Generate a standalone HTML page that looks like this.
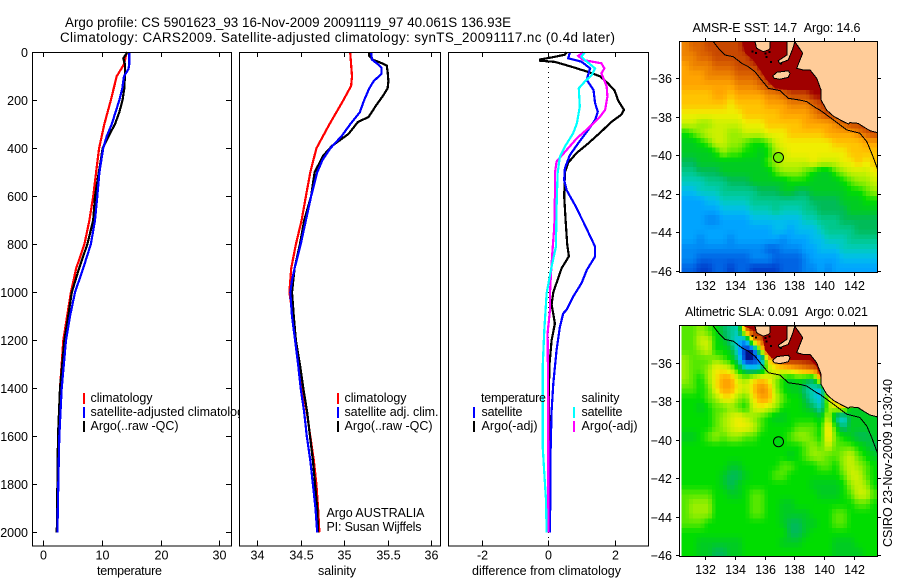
<!DOCTYPE html>
<html>
<head>
<meta charset="utf-8">
<style>
html,body{margin:0;padding:0;background:#fff;width:900px;height:580px;overflow:hidden}
svg{display:block}
text{font-family:"Liberation Sans",sans-serif;font-size:12.5px;fill:#000}
</style>
</head>
<body>
<svg id="figure" xmlns="http://www.w3.org/2000/svg" width="900" height="580" viewBox="0 0 900 580">
<rect x="0" y="0" width="900" height="580" fill="#fff"/>
<text x="65" y="27" textLength="446" style="font-size:13.4px">Argo profile: CS 5901623_93 16-Nov-2009 20091119_97 40.061S 136.93E</text>
<text x="60" y="42" textLength="555" style="font-size:13.4px">Climatology: CARS2009. Satellite-adjusted climatology: synTS_20091117.nc (0.4d later)</text>

<g id="temp-panel"></g>
<g>
<text x="90.5" y="402" textLength="62">climatology</text>
<text x="90.5" y="416">satellite-adjusted climatology</text>
<text x="90.5" y="430" textLength="88">Argo(..raw -QC)</text>
<rect x="83" y="393" width="2" height="11" fill="#f00"/>
<rect x="83" y="407" width="2" height="11" fill="#00f"/>
<rect x="83" y="421" width="2" height="11" fill="#000"/>
<text x="97" y="575" textLength="65">temperature</text>
</g>

<g id="sal-panel"></g>
<g>
<text x="344.5" y="402" textLength="62">climatology</text>
<text x="344.5" y="416" textLength="94">satellite adj. clim.</text>
<text x="344.5" y="430" textLength="88">Argo(..raw -QC)</text>
<rect x="337" y="393" width="2" height="11" fill="#f00"/>
<rect x="337" y="407" width="2" height="11" fill="#00f"/>
<rect x="337" y="421" width="2" height="11" fill="#000"/>
<text x="326.5" y="517" textLength="98">Argo AUSTRALIA</text>
<text x="326.5" y="531" textLength="95">PI: Susan Wijffels</text>
<text x="318" y="575" textLength="38">salinity</text>
</g>

<g id="diff-panel"></g>
<g>
<text x="481" y="402" textLength="65">temperature</text>
<text x="481.5" y="416" textLength="41">satellite</text>
<text x="481.5" y="430" textLength="56">Argo(-adj)</text>
<rect x="473" y="407" width="2" height="11" fill="#00f"/>
<rect x="473" y="421" width="2" height="11" fill="#000"/>
<text x="581.5" y="402" textLength="38">salinity</text>
<text x="581.5" y="416" textLength="41">satellite</text>
<text x="581.5" y="430" textLength="56">Argo(-adj)</text>
<rect x="573" y="407" width="2" height="11" fill="#0ff"/>
<rect x="573" y="421" width="2" height="11" fill="#f0f"/>
<text x="472" y="575" textLength="149">difference from climatology</text>
</g>

<text x="692.5" y="32" textLength="168">AMSR-E SST: 14.7&#160;&#160;Argo: 14.6</text>
<g id="sst-map"></g>
<text x="685" y="316" textLength="183">Altimetric SLA: 0.091&#160;&#160;Argo: 0.021</text>
<g id="sla-map"></g>
<text transform="translate(892,547) rotate(-90)" x="0" y="0" textLength="168">CSIRO 23-Nov-2009 10:30:40</text>
</svg>

<script>
// ---- profile data: depth (m) and value arrays for each series ----
const tempTicks = [0, 10, 20, 30];
const salTicks = [34, 34.5, 35, 35.5, 36];
const diffTicks = [-2, 0, 2];
const depthTicks = [0, 200, 400, 600, 800, 1000, 1200, 1400, 1600, 1800, 2000];

const tempClimDepth = [0, 50, 100, 200, 300, 400, 500, 600, 700, 800, 900, 1000, 1200, 1400, 1600, 1800, 2000];
const tempClim = [14.2, 13.75, 12.5, 11.5, 10.4, 9.5, 9.0, 8.5, 7.85, 7.0, 5.6, 4.7, 3.4, 2.85, 2.55, 2.4, 2.3];
const tempSatDepth = [0, 50, 70, 100, 150, 200, 250, 300, 350, 400, 500, 600, 700, 800, 900, 1000, 1100, 1200, 1400, 1600, 1800, 2000];
const tempSat = [14.65, 14.65, 14.5, 13.75, 13.45, 12.95, 12.3, 11.65, 10.8, 10.2, 9.55, 9.2, 8.8, 8.1, 6.8, 5.4, 4.55, 3.87, 3.13, 2.73, 2.55, 2.4];
const tempArgoDepth = [0, 25, 50, 100, 150, 200, 250, 300, 350, 400, 450, 500, 600, 700, 800, 900, 1000, 1100, 1200, 1400, 1600, 1800, 2000];
const tempArgo = [14.3, 13.65, 13.9, 13.9, 13.8, 13.5, 12.95, 12.2, 11.1, 10.1, 9.8, 9.45, 8.8, 8.5, 7.5, 6.1, 4.85, 4.25, 3.6, 2.85, 2.5, 2.4, 2.3];

const salClimDepth = [0, 50, 100, 140, 200, 300, 400, 500, 600, 700, 800, 900, 1000, 1100, 1200, 1300, 1400, 1500, 1600, 1700, 1800, 1900, 2000];
const salClim = [35.07, 35.08, 35.09, 35.08, 34.99, 34.83, 34.68, 34.61, 34.56, 34.51, 34.445, 34.39, 34.37, 34.41, 34.445, 34.48, 34.52, 34.57, 34.61, 34.65, 34.68, 34.70, 34.715];
const salSatDepth = [0, 30, 50, 65, 90, 120, 150, 200, 250, 300, 350, 400, 450, 500, 600, 700, 800, 900, 950, 1000, 1100, 1200, 1300, 1400, 1500, 1600, 1700, 1800, 1900, 2000];
const salSat = [35.31, 35.32, 35.39, 35.43, 35.43, 35.34, 35.29, 35.23, 35.18, 35.07, 34.97, 34.84, 34.75, 34.69, 34.62, 34.56, 34.5, 34.43, 34.40, 34.38, 34.40, 34.435, 34.47, 34.5, 34.54, 34.57, 34.61, 34.64, 34.67, 34.69];
const salArgoDepth = [0, 15, 30, 45, 55, 80, 120, 150, 180, 220, 270, 290, 340, 390, 430, 500, 600, 700, 800, 900, 1000, 1100, 1200, 1300, 1400, 1500, 1600, 1700, 1800, 1900, 2000];
const salArgo = [35.29, 35.29, 35.325, 35.43, 35.49, 35.5, 35.51, 35.5, 35.45, 35.37, 35.28, 35.16, 35.05, 34.86, 34.76, 34.66, 34.62, 34.54, 34.49, 34.43, 34.40, 34.42, 34.445, 34.49, 34.53, 34.575, 34.607, 34.64, 34.665, 34.69, 34.70];

const diffTempArgoDepth = [0, 10, 20, 30, 35, 40, 50, 60, 80, 100, 130, 160, 200, 240, 260, 290, 330, 380, 420, 460, 500, 600, 700, 800, 850, 900, 1000, 1050, 1130, 1200, 1310, 1420, 2000];
const diffTempArgo = [0.55, 0.5, 0.15, -0.25, -0.25, 0.2, 0.45, 0.7, 1.16, 1.56, 1.8, 2.0, 2.1, 2.28, 2.2, 1.9, 1.6, 1.2, 0.85, 0.6, 0.5, 0.48, 0.52, 0.57, 0.62, 0.4, 0.15, 0.1, 0.2, 0.1, 0.03, 0.02, 0.05];
const diffTempSatDepth = [0, 25, 39, 67, 94, 115, 157, 212, 247, 282, 324, 379, 428, 483, 532, 574, 636, 719, 810, 851, 907, 962, 1018, 1073, 1088, 1144, 1240, 1380, 1495, 1660, 2000];
const diffTempSat = [0.65, 0.6, 1.0, 1.26, 1.2, 1.16, 1.36, 1.41, 1.49, 1.41, 1.2, 0.9, 0.65, 0.5, 0.48, 0.55, 0.8, 1.1, 1.41, 1.41, 1.16, 1.0, 0.75, 0.55, 0.45, 0.35, 0.25, 0.15, 0.1, 0.07, 0.05];
const diffSalArgoDepth = [0, 15, 32, 46, 67, 87, 143, 185, 240, 268, 317, 358, 407, 455, 504, 601, 726, 837, 921, 1004, 1073, 1170, 1500, 2000];
const diffSalArgo = [1.05, 0.9, 1.05, 1.6, 1.69, 1.6, 1.76, 1.78, 1.71, 1.56, 1.2, 0.86, 0.55, 0.25, 0.2, 0.2, 0.18, 0.12, 0.08, 0.05, 0.05, -0.02, 0, 0];
const diffSalSatDepth = [0, 18, 32, 67, 94, 122, 150, 226, 296, 337, 393, 435, 504, 643, 810, 893, 1004, 1073, 1157, 1310, 1643, 1754, 1865, 2000];
const diffSalSat = [1.1, 1.0, 1.1, 1.41, 1.31, 1.1, 0.92, 0.95, 0.86, 0.75, 0.5, 0.35, 0.28, 0.25, 0.23, 0.1, -0.05, -0.08, -0.12, -0.17, -0.17, -0.12, -0.07, -0.05];

// ---- map data: gridded colour levels, 24 rows (north to south) by 26 columns ----
const mapLonTicks = [132, 134, 136, 138, 140, 142];
const mapLatTicks = [-36, -38, -40, -42, -44, -46];
const sstGrid = [
[16,17,17,18,18,18,18,18,19,19,19,19,19,19,19,19,19,19,19,19,19,19,19,19,19,19],
[16,16,17,17,18,18,18,18,18,19,19,19,19,19,19,19,19,19,19,19,19,19,19,19,19,19],
[15,16,16,16,17,17,17,18,18,18,19,19,19,19,19,19,19,19,19,19,19,19,19,19,19,19],
[15,15,15,16,16,16,16,17,17,17,18,19,19,19,19,19,19,19,19,19,19,19,19,19,19,19],
[15,15,15,15,15,15,15,16,16,16,17,18,19,19,19,19,19,19,19,19,19,19,19,19,19,19],
[14,14,14,14,15,15,14,15,15,15,15,16,16,17,18,18,18,19,19,19,19,19,19,19,19,19],
[14,14,14,14,14,14,13,14,14,14,14,15,15,15,16,16,16,17,18,19,19,19,19,19,19,19],
[13,13,13,13,13,13,13,13,14,14,14,14,14,15,15,15,15,16,17,18,18,19,19,19,19,19],
[12,12,11,11,12,12,12,12,13,13,13,14,14,14,14,14,15,15,15,15,16,17,18,18,19,19],
[9,10,11,12,12,12,11,11,12,12,12,13,13,13,14,14,14,14,14,15,15,15,15,16,17,18],
[8,8,9,10,12,12,11,11,10,9,9,10,12,13,13,13,13,13,13,13,14,14,14,14,15,15],
[8,8,8,8,9,11,10,10,9,9,8,9,11,12,13,13,13,13,13,13,13,13,14,14,14,14],
[7,7,8,8,8,8,8,8,8,8,8,10,11,12,12,12,12,13,12,12,12,13,13,14,13,14],
[6,6,7,7,7,8,8,8,8,8,8,8,10,11,11,11,10,9,8,8,10,11,12,12,12,13],
[5,5,5,6,6,6,7,7,7,8,8,8,8,8,9,9,9,8,8,8,8,9,10,11,11,12],
[4,4,5,5,5,6,6,6,6,6,7,7,7,8,8,7,7,8,8,8,8,8,9,9,10,11],
[3,3,3,4,4,5,5,5,5,6,6,6,6,6,6,6,6,7,7,7,7,8,8,8,9,9],
[3,3,3,3,3,4,4,4,4,5,5,5,6,5,5,5,6,6,7,7,7,7,8,8,8,8],
[3,3,3,2,2,3,3,3,3,4,4,4,4,4,4,4,5,5,6,6,6,7,7,7,7,7],
[3,3,3,3,3,3,3,3,3,3,3,3,4,4,3,4,4,4,5,6,6,6,6,7,7,7],
[3,3,2,3,3,3,2,3,3,3,3,3,3,2,3,3,3,4,4,5,5,5,6,6,6,6],
[2,2,2,2,2,2,2,2,2,2,2,1,1,2,2,2,3,3,4,4,4,5,5,5,5,5],
[2,2,1,1,1,1,1,1,1,2,2,2,1,1,1,1,2,3,3,3,3,4,4,4,4,4],
[1,1,0,0,1,1,0,1,1,0,0,0,0,1,1,1,2,2,3,2,3,3,3,3,3,3]
];
const slaGrid = [
[10,10,11,10,9,7,6,5,16,19,19,19,19,19,19,19,19,19,19,19,19,19,19,19,19,19],
[10,10,12,12,9,8,6,4,2,15,17,19,19,19,19,19,19,19,19,19,19,19,19,19,19,19],
[10,10,11,12,9,9,8,4,-1,-1,12,19,19,19,19,19,19,19,19,19,19,19,19,19,19,19],
[11,10,10,10,11,10,9,6,-1,-1,1,14,15,19,19,19,19,19,19,19,19,19,19,19,19,19],
[11,10,10,11,13,13,12,9,6,5,6,11,13,13,14,15,16,17,19,19,19,19,19,19,19,19],
[11,10,9,11,13,15,15,12,11,13,14,13,11,9,8,9,8,7,15,18,19,19,19,19,19,19],
[10,10,9,10,13,15,15,13,12,14,16,15,11,9,8,8,6,5,4,13,18,19,19,19,19,19],
[9,9,9,10,11,13,13,11,10,13,15,15,12,10,9,9,7,5,4,12,15,18,19,19,19,19],
[9,9,8,9,10,10,11,10,9,12,13,12,11,9,9,9,8,7,5,11,12,13,8,8,8,8],
[9,9,9,9,10,11,12,13,12,11,10,9,8,8,9,9,9,9,8,12,6,4,8,8,8,8],
[9,9,9,9,10,11,12,13,13,12,10,9,9,9,9,10,10,10,9,14,9,6,8,8,8,8],
[8,8,9,10,11,10,11,11,10,10,9,9,9,9,10,11,11,10,9,14,10,9,8,7,7,8],
[9,9,9,9,9,9,9,9,9,9,9,9,9,9,9,9,10,11,10,12,10,10,10,9,8,7],
[9,9,9,9,9,9,9,9,9,9,9,9,9,9,8,9,10,11,11,10,10,11,12,10,9,8],
[9,9,9,9,9,9,8,8,9,9,9,9,9,10,10,9,9,9,10,10,9,11,12,11,10,9],
[9,9,9,9,9,8,7,7,8,9,9,9,10,10,9,9,9,9,9,9,9,10,12,12,10,9],
[9,9,9,9,9,8,7,8,9,9,9,9,9,9,9,9,9,8,8,8,8,9,11,12,11,9],
[10,10,10,10,9,9,8,8,9,10,10,9,9,9,9,9,9,9,8,8,8,9,10,12,12,10],
[10,11,11,11,9,9,9,9,9,10,10,9,9,8,8,9,9,9,9,9,9,9,9,10,10,9],
[10,11,11,11,9,9,9,9,9,10,10,9,9,8,8,8,8,9,9,9,10,10,9,9,9,9],
[10,10,10,9,9,9,9,9,9,9,9,9,9,8,7,7,8,8,9,9,10,10,9,9,9,9],
[9,9,9,9,9,9,9,9,9,9,9,9,9,9,7,7,8,9,9,9,9,9,9,9,9,9],
[9,9,8,8,8,8,8,8,9,9,9,9,9,8,8,8,9,9,9,9,8,8,8,9,9,9],
[9,9,8,8,7,7,8,8,9,9,9,9,9,9,9,9,9,9,9,9,8,8,8,8,9,9]
];
// geography (lon / lat)
const isobathLon = [132.54,132.88,133.33,133.89,134.45,134.90,135.35,135.69,136.25,137.03,137.59,138.38,138.83,139.51,139.73,140.63,141.53,142.42,142.88,143.21,143.59];
const isobathLat = [-34.10,-34.44,-34.79,-34.88,-35.22,-35.40,-35.66,-36.00,-36.52,-36.64,-37.04,-37.13,-37.21,-37.56,-37.65,-38.16,-38.68,-38.85,-39.29,-39.89,-40.67];
const mainlandLon = [138.04,138.27,138.56,138.38,138.16,138.60,139.06,139.51,139.80,139.80,140.18,140.63,141.19,141.64,141.75,142.31,142.65,143.10,143.59,143.59];
const mainlandLat = [-34.10,-34.36,-34.70,-35.05,-35.48,-35.57,-35.57,-36.00,-36.61,-37.13,-37.65,-37.96,-38.20,-38.37,-38.30,-38.34,-38.51,-38.72,-38.82,-34.10];
const yorkeLon = [137.49,137.49,136.92,136.99,137.59,137.86,138.04];
const yorkeLat = [-34.10,-34.79,-35.09,-35.22,-35.05,-34.53,-34.10];
const eyreLon = [135.35,135.46,135.91,136.25,136.36,136.36];
const eyreLat = [-34.10,-34.44,-34.62,-34.53,-34.44,-34.10];
const kangarooLon = [136.54,136.81,137.59,137.71,137.59,137.03,136.65];
const kangarooLat = [-35.88,-35.69,-35.61,-35.74,-35.95,-36.05,-36.00];
const speckLon = [135.13,135.35,135.98,136.25,136.07,136.36,137.03];
const speckLat = [-34.57,-34.64,-34.67,-34.58,-34.84,-35.09,-35.19];
const sstShelfLon = [134.49,134.68,135.23,135.69,136.14,136.70,137.71,139.06,139.80,139.80];
const sstShelfLat = [-34.10,-34.70,-35.05,-35.57,-36.09,-36.52,-36.61,-36.61,-36.61,-34.10];
const slaShelfLon = [134.56,135.80,136.02,136.47,137.93,138.72,139.51,139.84,140.40];
const slaShelfLat = [-34.09,-34.47,-35.34,-35.77,-35.86,-35.60,-36.21,-36.90,-34.10];
const floatLon = 136.93;
const floatLat = -40.11;

// ---- helpers ----
const NS = 'http://www.w3.org/2000/svg';
function mk(parent, tag, attrs) {
  const e = document.createElementNS(NS, tag);
  for (const k in attrs) e.setAttribute(k, attrs[k]);
  parent.appendChild(e);
  return e;
}
function yDepth(d) { return 52.3 + d * 0.24; }
const TOP = 52, BOTTOM = 545.5;

function drawFrame(g, L, R, T, B) {
  const f = mk(g, 'rect', {x: L + .5, y: T + .5, width: R - L, height: B - T, fill: 'none', stroke: '#000', 'stroke-width': 1, 'shape-rendering': 'crispEdges'});
  
  
}
function tickLine(g, x1, y1, x2, y2) {
  const t = mk(g, 'line', {x1: x1, y1: y1, x2: x2, y2: y2, stroke: '#000', 'stroke-width': 1, 'shape-rendering': 'crispEdges'});
  
  
}
function tickText(g, x, y, anchor, s) {
  const t = mk(g, 'text', {x: x, y: y, 'text-anchor': anchor});
  t.textContent = s;
  
  
}
function drawProfile(g, xFn, depths, values, color, name) {
  const pts = depths.map((d, i) => xFn(values[i]).toFixed(1) + ',' + yDepth(d).toFixed(1)).join(' ');
  const l = mk(g, 'polyline', {points: pts, fill: 'none', stroke: color, 'stroke-width': 2.2, 'stroke-linejoin': 'miter', 'shape-rendering': 'crispEdges'});
  
  
}
function panelBase(g, L, R, xFn, ticks) {
  const bg = mk(g, 'rect', {x: L, y: TOP, width: R - L + 1, height: BOTTOM - TOP + 1, fill: '#fff'});
  
  
  ticks.forEach(t => {
    const x = Math.round(xFn(t)) + .5;
    tickLine(g, x, TOP, x, TOP + 5);
    tickLine(g, x, BOTTOM, x, BOTTOM - 5);
    tickText(g, x, 559.5, 'middle', String(t));
  });
}

// temperature panel
const xTemp = v => 43.3 + v * 5.87;
const gT = document.getElementById('temp-panel');
panelBase(gT, 32, 231, xTemp, tempTicks);
depthTicks.forEach(d => {
  const y = Math.round(yDepth(d)) + .5;
  tickLine(gT, 32, y, 37, y);
  tickLine(gT, 231, y, 226, y);
  tickText(gT, 28, y + 4.5, 'end', String(d));
});
drawProfile(gT, xTemp, tempClimDepth, tempClim, '#f00', 'temperature-climatology-line');
drawProfile(gT, xTemp, tempArgoDepth, tempArgo, '#000', 'temperature-argo-line');
drawProfile(gT, xTemp, tempSatDepth, tempSat, '#00f', 'temperature-satellite-line');
drawFrame(gT, 32, 231, TOP, BOTTOM);

// salinity panel
const xSal = v => 257.3 + (v - 34) * 86.85;
const gS = document.getElementById('sal-panel');
panelBase(gS, 239, 440, xSal, salTicks);
drawProfile(gS, xSal, salClimDepth, salClim, '#f00', 'salinity-climatology-line');
drawProfile(gS, xSal, salArgoDepth, salArgo, '#000', 'salinity-argo-line');
drawProfile(gS, xSal, salSatDepth, salSat, '#00f', 'salinity-satellite-line');
drawFrame(gS, 239, 440, TOP, BOTTOM);

// difference panel
const xDiff = v => 548.3 + v * 33.2;
const gD = document.getElementById('diff-panel');
panelBase(gD, 448, 648, xDiff, diffTicks);
const zero = mk(gD, 'line', {x1: xDiff(0), y1: TOP, x2: xDiff(0), y2: BOTTOM, stroke: '#000', 'stroke-width': 1, 'stroke-dasharray': '1 4', 'shape-rendering': 'crispEdges'});


drawProfile(gD, xDiff, diffTempArgoDepth, diffTempArgo, '#000', 'difference-temp-argo-line');
drawProfile(gD, xDiff, diffTempSatDepth, diffTempSat, '#00f', 'difference-temp-satellite-line');
drawProfile(gD, xDiff, diffSalArgoDepth, diffSalArgo, '#f0f', 'difference-sal-argo-line');
drawProfile(gD, xDiff, diffSalSatDepth, diffSalSat, '#0ff', 'difference-sal-satellite-line');
drawFrame(gD, 448, 648, TOP, BOTTOM);

// maps
const palette = [[0,18,140],[0,64,204],[0,100,228],[0,136,244],[0,164,255],[0,189,238],[0,204,188],[0,200,140],[0,187,88],[0,204,34],[0,221,0],[85,232,0],[153,238,0],[204,240,0],[240,238,0],[255,196,0],[255,164,0],[238,132,0],[220,100,0],[200,72,0],[160,0,0]];
const LAND = '#ffcc99';
const lonMin = 130.41, lonMax = 143.59, latTop = -34.1;
const xLon = lon => 705.3 + (lon - 132) * 14.84;

function levelColor(v) {
  const p = Math.max(0, Math.min(palette.length - 1, v + 1));
  const a = Math.floor(p), b = Math.min(a + 1, palette.length - 1), f = p - a;
  const c = palette[a].map((ch, k) => Math.round(ch + (palette[b][k] - ch) * f));
  return 'rgb(' + c.join(',') + ')';
}
function sampleGrid(grid, r, c) {
  const rows = grid.length, cols = grid[0].length;
  const r0 = Math.max(0, Math.min(rows - 1, Math.floor(r))), r1 = Math.max(0, Math.min(rows - 1, Math.floor(r) + 1));
  const c0 = Math.max(0, Math.min(cols - 1, Math.floor(c))), c1 = Math.max(0, Math.min(cols - 1, Math.floor(c) + 1));
  const fr = r - Math.floor(r), fc = c - Math.floor(c);
  const top = grid[r0][c0] * (1 - fc) + grid[r0][c1] * fc;
  const bot = grid[r1][c0] * (1 - fc) + grid[r1][c1] * fc;
  return top * (1 - fr) + bot * fr;
}
function drawMap(g, grid, yLat, frameT, frameB, labelY, shelfLon, shelfLat, circleFill) {
  const L = 679, R = 877;
  const bg = mk(g, 'rect', {x: L, y: frameT, width: R - L, height: frameB - frameT, fill: '#fff'});
  
  
  // each grid value is shown with 2x2 display cells shaded between its neighbours
  const SUB = 2;
  const nR = grid.length * SUB, nC = grid[0].length * SUB;
  const dLon = (lonMax - lonMin) / nC, dLat = 0.5 / SUB;
  for (let i = 0; i < nR; i++) {
    for (let j = 0; j < nC; j++) {
      const v = sampleGrid(grid, (i + .5) / SUB - .5, (j + .5) / SUB - .5);
      const x0 = xLon(lonMin + j * dLon), x1 = xLon(lonMin + (j + 1) * dLon);
      const y0 = Math.max(yLat(latTop - i * dLat), frameT), y1 = Math.min(yLat(latTop - (i + 1) * dLat), frameB);
      const c = mk(g, 'rect', {x: x0.toFixed(1), y: y0.toFixed(1), width: (x1 - x0 + .6).toFixed(1), height: (y1 - y0 + .6).toFixed(1), fill: levelColor(v), 'shape-rendering': 'crispEdges'});
      
      
    }
  }
  const poly = (lons, lats, fill, stroke, name) => {
    const pts = lons.map((lo, i) => xLon(lo).toFixed(1) + ',' + yLat(lats[i]).toFixed(1)).join(' ');
    const p = mk(g, 'polygon', {points: pts, fill: fill, stroke: stroke, 'stroke-width': 1, 'shape-rendering': 'crispEdges'});
    
    
  };
  poly(shelfLon, shelfLat, '#a00000', 'none', 'shelf-mask');
  poly(mainlandLon, mainlandLat, LAND, '#000', 'mainland');
  poly(yorkeLon, yorkeLat, LAND, '#000', 'yorke-peninsula');
  poly(eyreLon, eyreLat, LAND, '#000', 'eyre-peninsula');
  poly(kangarooLon, kangarooLat, LAND, '#000', 'kangaroo-island');
  speckLon.forEach((lo, i) => {
    const s = mk(g, 'rect', {x: xLon(lo).toFixed(1), y: yLat(speckLat[i]).toFixed(1), width: 2, height: 2, fill: '#000', 'shape-rendering': 'crispEdges'});
    
    
  });
  const iso = mk(g, 'polyline', {points: isobathLon.map((lo, i) => xLon(lo).toFixed(1) + ',' + yLat(isobathLat[i]).toFixed(1)).join(' '), fill: 'none', stroke: '#000', 'stroke-width': 1, 'shape-rendering': 'crispEdges'});
  
  
  const mask = mk(g, 'rect', {x: R + 1, y: frameT - 1, width: 3, height: frameB - frameT + 3, fill: '#fff'});
  
  
  const cir = mk(g, 'circle', {cx: xLon(floatLon).toFixed(1), cy: yLat(floatLat).toFixed(1), r: 5, fill: circleFill, stroke: '#000', 'stroke-width': 1});
  
  
  drawFrame(g, L, R, frameT, frameB);
  mapLonTicks.forEach(t => {
    const x = Math.round(xLon(t)) + .5;
    tickLine(g, x, frameT, x, frameT - 3);
    tickLine(g, x, frameB + 1, x, frameB + 4);
    tickText(g, x, labelY, 'middle', String(t));
  });
  mapLatTicks.forEach(t => {
    const y = Math.round(yLat(t)) + .5;
    tickLine(g, L, y, L - 3, y);
    tickLine(g, R + 1, y, R + 4, y);
    tickText(g, 672, y + 4.5, 'end', '\u2212' + Math.abs(t));
  });
}
drawMap(document.getElementById('sst-map'), sstGrid, lat => 78.3 + (-36 - lat) * 19.27, 41, 272, 290, sstShelfLon, sstShelfLat, '#77ee00');
drawMap(document.getElementById('sla-map'), slaGrid, lat => 362.7 + (-36 - lat) * 19.23, 325, 556, 574, slaShelfLon, slaShelfLat, '#00d810');
</script>
</body>
</html>
